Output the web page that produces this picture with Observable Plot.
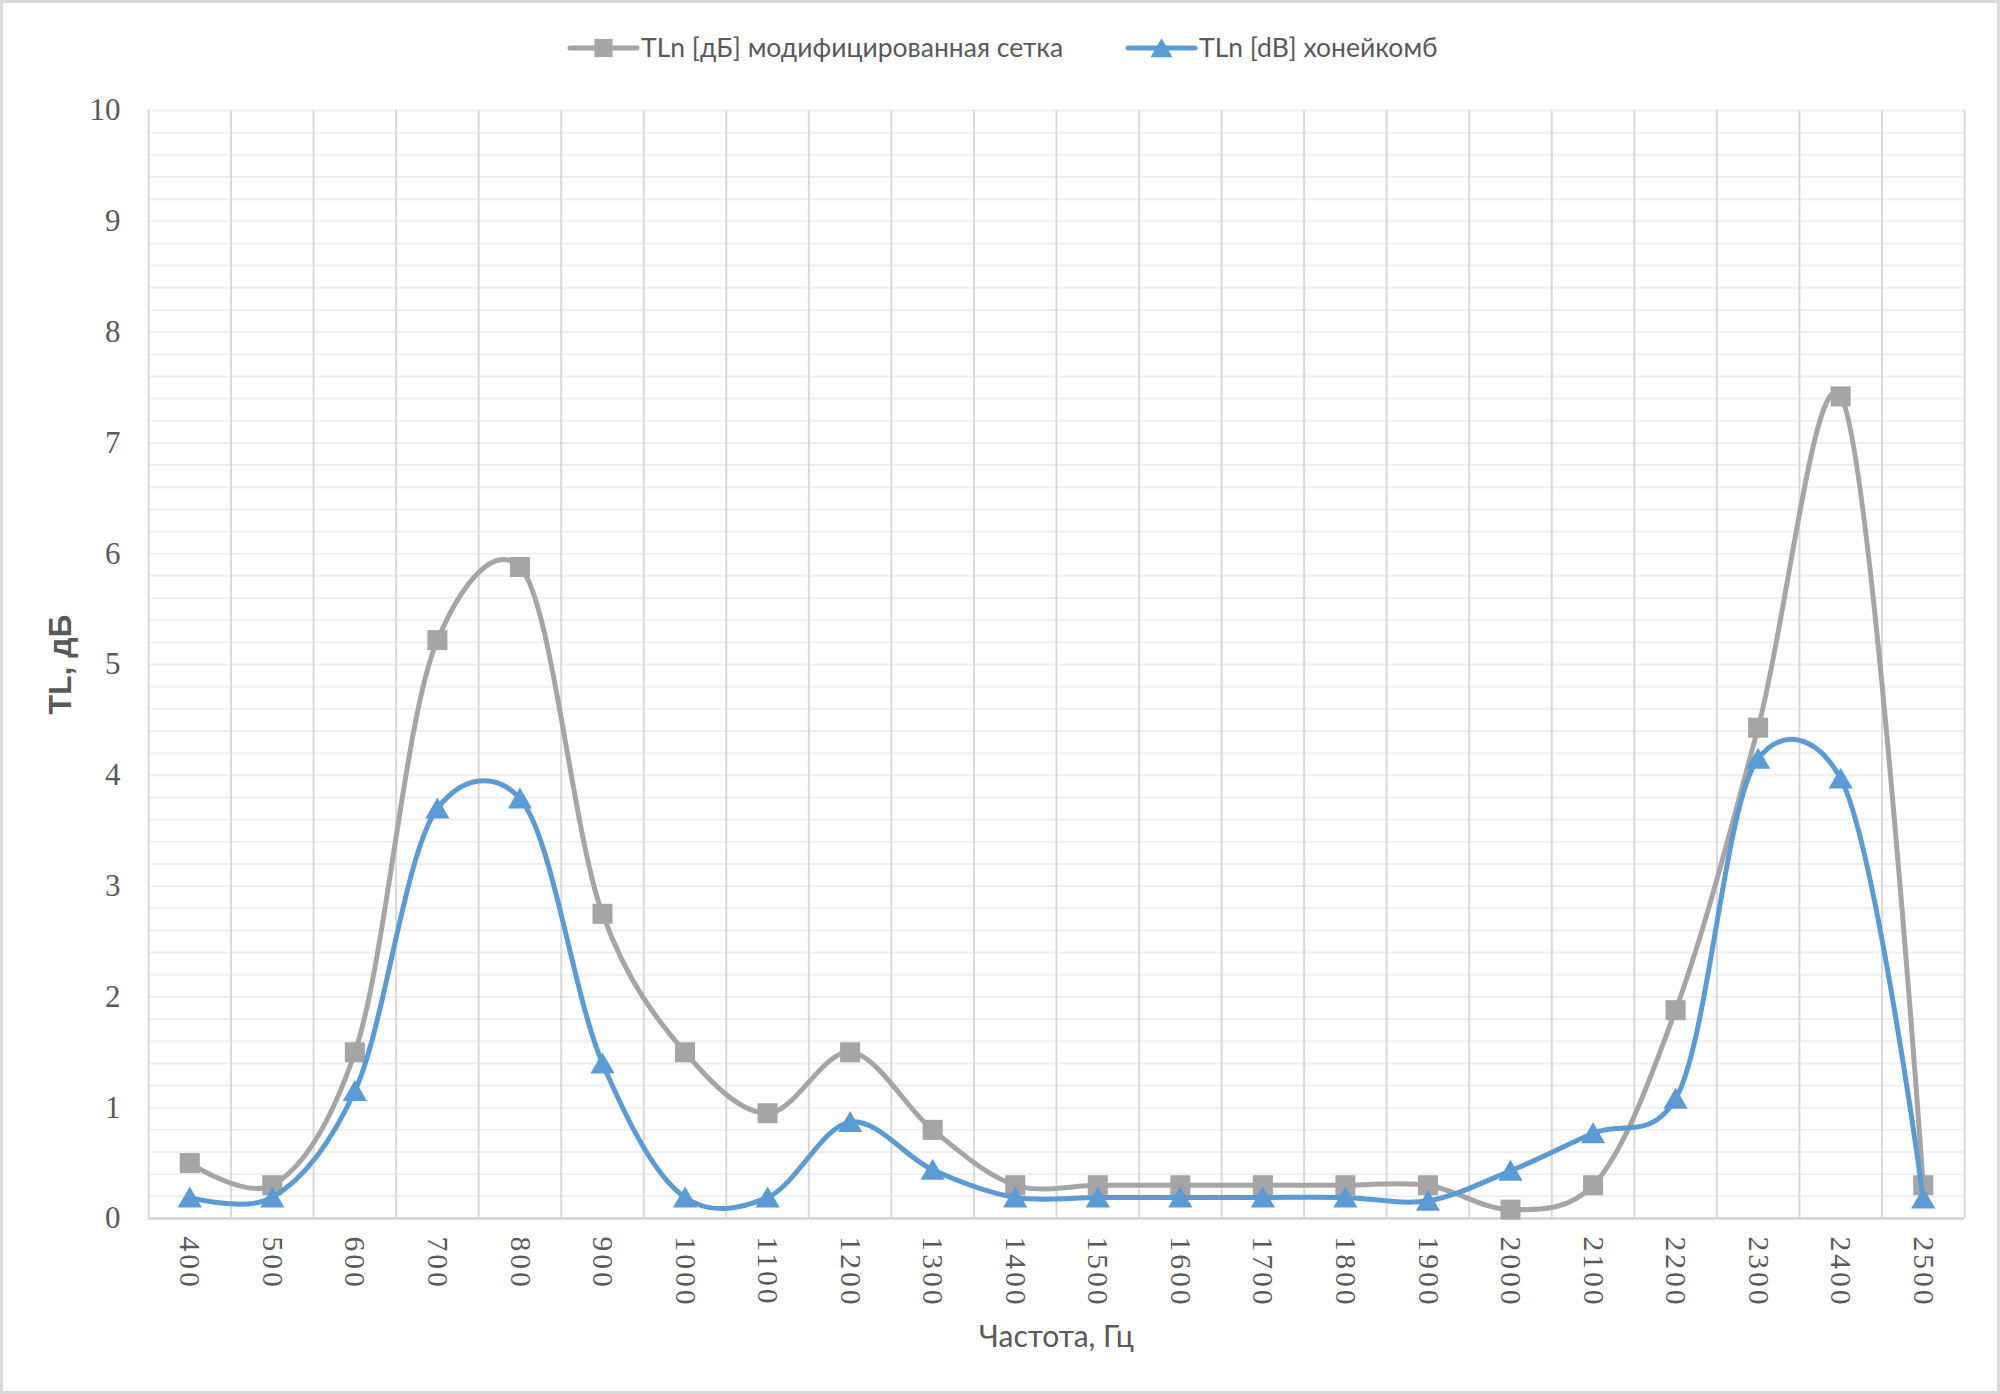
<!DOCTYPE html>
<html>
<head>
<meta charset="utf-8">
<script src="https://cdn.jsdelivr.net/npm/d3@7"></script>
<script src="https://cdn.jsdelivr.net/npm/@observablehq/plot@0.6"></script>
<style>
  html, body { margin: 0; padding: 0; background: #fff; }
  #chart { width: 2000px; height: 1394px; }
</style>
</head>
<body>
<div id="chart"></div>
<script>
// ---- data ----
const frequencies = [400, 500, 600, 700, 800, 900, 1000, 1100, 1200, 1300, 1400, 1500, 1600, 1700, 1800, 1900, 2000, 2100, 2200, 2300, 2400, 2500];
const tlMesh = [0.5, 0.3, 1.5, 5.22, 5.88, 2.75, 1.5, 0.95, 1.5, 0.8, 0.3, 0.3, 0.3, 0.3, 0.3, 0.3, 0.08, 0.3, 1.88, 4.43, 7.42, 0.3];
const tlHoney = [0.19, 0.19, 1.15, 3.7, 3.79, 1.4, 0.19, 0.19, 0.87, 0.44, 0.19, 0.19, 0.19, 0.19, 0.19, 0.16, 0.43, 0.77, 1.08, 4.15, 3.97, 0.18];
const yTicks = [0, 1, 2, 3, 4, 5, 6, 7, 8, 9, 10];
const yMinor = d3.range(0.2, 10.01, 0.2).map(v => +v.toFixed(1));
const xBounds = [350, 450, 550, 650, 750, 850, 950, 1050, 1150, 1250, 1350, 1450, 1550, 1650, 1750, 1850, 1950, 2050, 2150, 2250, 2350, 2450, 2550];
const seriesNames = ["TLn [дБ] модифицированная сетка", "TLn [dB] хонейкомб"];
const seriesColors = ["#a5a5a5", "#5b9bd5"];
const xTitle = "Частота, Гц";
const yTitle = "TL, дБ";

const mesh = frequencies.map((f, i) => ({f, v: tlMesh[i]}));
const honey = frequencies.map((f, i) => ({f, v: tlHoney[i]}));

const W = 2000, H = 1394;
const sansFont = "Lato, 'Open Sans', sans-serif";
const serifFont = "'Liberation Serif', 'DejaVu Serif', serif";
const smooth = d3.curveCatmullRom.alpha(0.22);

// legend + outer border drawn as a custom mark
function decorations(index, scales, values, dims) {
  const g = d3.create("svg:g");
  g.append("rect").attr("x", 1.5).attr("y", 1.5).attr("width", W - 3).attr("height", H - 3)
    .attr("fill", "none").attr("stroke", "#d9d9d9").attr("stroke-width", 3);
  const items = [
    {x0: 570, x1: 637, tx: 641, sym: d3.symbolSquare, size: 330, dy: 0},
    {x0: 1128, x1: 1195, tx: 1199, sym: d3.symbolTriangle, size: 210, dy: 3}
  ];
  const ly = 48;
  items.forEach((it, i) => {
    g.append("line").attr("x1", it.x0).attr("x2", it.x1).attr("y1", ly).attr("y2", ly)
      .attr("stroke", seriesColors[i]).attr("stroke-width", 5).attr("stroke-linecap", "round");
    g.append("path").attr("d", d3.symbol(it.sym, it.size)())
      .attr("transform", `translate(${(it.x0 + it.x1) / 2},${ly + it.dy})`)
      .attr("fill", seriesColors[i]);
    g.append("text").attr("x", it.tx).attr("y", ly).attr("dy", "0.35em")
      .attr("text-anchor", "start")
      .attr("font-family", sansFont).attr("font-size", 26.5).attr("fill", "#595959")
      .text(seriesNames[i]);
  });
  return g.node();
}

const chart = Plot.plot({
  width: W,
  height: H,
  marginLeft: 148,
  marginRight: 36,
  marginTop: 110,
  marginBottom: 176,
  style: {background: "#fff", overflow: "visible"},
  x: {type: "linear", domain: [350, 2550], axis: null},
  y: {type: "linear", domain: [0, 10], axis: null},
  marks: [
    Plot.ruleY(yMinor, {stroke: "#efefef", strokeWidth: 2}),
    Plot.ruleX(xBounds, {stroke: "#d9d9d9", strokeWidth: 2}),
    Plot.ruleY([0], {stroke: "#d9d9d9", strokeWidth: 3}),
    Plot.axisY(yTicks, {
      anchor: "left", tickSize: 0, tickPadding: 28, fontSize: 31,
      fontFamily: serifFont, color: "#595959", label: null, tickFormat: d => String(d)
    }),
    Plot.axisX(frequencies, {
      anchor: "bottom", tickSize: 0, tickPadding: 18, fontSize: 29.5, tickRotate: 90,
      fontFamily: serifFont, color: "#595959", label: null, tickFormat: d => String(d)
    }),
    Plot.text([xTitle], {
      frameAnchor: "bottom", dy: 119, text: d => d, textAnchor: "middle",
      fontFamily: sansFont, fontSize: 30, fill: "#595959", lineAnchor: "middle"
    }),
    Plot.text([yTitle], {
      frameAnchor: "left", dx: -88, rotate: -90, text: d => d, textAnchor: "middle", lineAnchor: "middle",
      fontFamily: "'Liberation Sans', Arial, sans-serif", fontWeight: "bold", fontSize: 32, fill: "#595959"
    }),
    Plot.line(mesh, {x: "f", y: "v", stroke: seriesColors[0], strokeWidth: 5, curve: smooth}),
    Plot.dot(mesh, {x: "f", y: "v", symbol: "square", r: 11.3, fill: seriesColors[0], stroke: "none"}),
    Plot.line(honey, {x: "f", y: "v", stroke: seriesColors[1], strokeWidth: 5, curve: smooth}),
    Plot.dot(honey, {x: "f", y: "v", symbol: "triangle", r: 9, fill: seriesColors[1], stroke: "none", dy: 3}),
    decorations
  ]
});

// slightly wider spacing of rotated x tick labels, like the reference
d3.select(chart).selectAll('g[aria-label="x-axis tick label"] text').style("letter-spacing", "3px");

document.getElementById("chart").appendChild(chart);
</script>
</body>
</html>
